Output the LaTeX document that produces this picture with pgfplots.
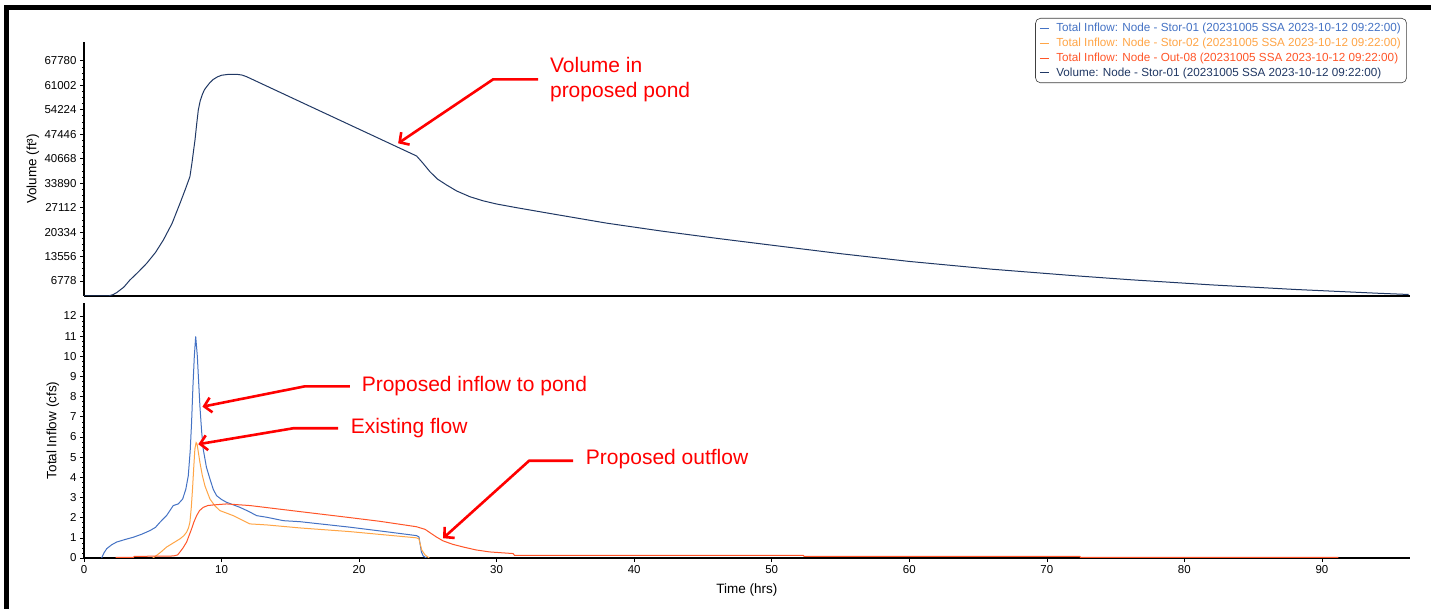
\documentclass[border=0pt]{standalone}
\usepackage{fontspec}
\setmainfont{Liberation Sans}
\usepackage{pgfplots}
\pgfplotsset{compat=1.18}
\usetikzlibrary{arrows.meta}
\definecolor{cblue}{RGB}{68,114,196}
\definecolor{corange}{RGB}{255,165,70}
\definecolor{cred}{RGB}{255,85,40}
\definecolor{cnavy}{RGB}{32,56,100}
\tikzset{ann/.style={draw=red, line width=2.6bp, -{Straight Barb[length=7bp,width=15bp]}},
  anntext/.style={anchor=west, text=red, font=\fontsize{21bp}{25bp}\selectfont, align=left, inner sep=0pt}}
\pgfplotsset{
 base/.style={
  scale only axis, width=1326bp,
  xmin=0, xmax=96.4,
  axis x line*=bottom, axis y line*=left,
  axis line style={-},
  x axis line style={line width=2.6bp},
  y axis line style={line width=1.4bp},
  tick align=outside,
  major tick length=4bp, minor tick length=2bp,
  tick style={black, line width=0.6bp},
  /pgf/number format/assume math mode=true,
  /pgf/number format/1000 sep={},
  scaled ticks=false,
  ticklabel style={font=\fontsize{11.5bp}{13bp}\selectfont},
  label style={font=\fontsize{13.5bp}{16bp}\selectfont},
  anchor=south west,
  every axis plot/.append style={line width=1bp},
 }
}
\begin{document}
\begin{tikzpicture}[x=1bp,y=1bp]
\useasboundingbox (0bp,0bp) rectangle (1431bp,609bp);
\fill[white] (0bp,0bp) rectangle (1431bp,609bp);
\fill[black] (4bp,0bp) rectangle (9bp,604bp);
\fill[black] (4bp,599bp) rectangle (1431bp,604bp);

% ---------- top panel: volume ----------
\begin{axis}[base, at={(84bp,313bp)}, height=254bp,
  ymin=2630, ymax=72960,
  ytick={6778,13556,20334,27112,33890,40668,47446,54224,61002,67780},
  minor y tick num=3,
  xtick=\empty,
  ylabel={Volume (ft³)},
  ylabel style={at={(axis description cs:-0.03846,0.5)}, anchor=center},
  legend style={at={(axis description cs:0.9977,1.0945)}, anchor=north east,
    draw=black!75, rounded corners=5bp, line width=0.6bp,
    font=\fontsize{11.7bp}{13bp}\selectfont,
    inner xsep=4bp, inner ysep=3bp, row sep=1.4bp,
    /tikz/every odd column/.append style={column sep=5bp},
    cells={anchor=west}, nodes={inner sep=1.8bp}},
  legend image code/.code={\draw[#1, line width=1bp] (0bp,0bp) -- (9bp,0bp);},
]
\addlegendimage{cblue}
\addlegendentry{\textcolor{cblue}{Total Inflow: Node - Stor-01 (20231005 SSA 2023-10-12 09:22:00)}}
\addlegendimage{corange}
\addlegendentry{\textcolor{corange}{Total Inflow: Node - Stor-02 (20231005 SSA 2023-10-12 09:22:00)}}
\addlegendimage{cred}
\addlegendentry{\textcolor{cred}{Total Inflow: Node - Out-08 (20231005 SSA 2023-10-12 09:22:00)}}
\addplot[cnavy] coordinates {
(0,2630) (1.77,2630) (2.1,3000) (2.37,3544) (2.9,5100) (3.34,7061) (3.9,9100)
(4.56,11685) (5.2,14700) (5.77,18137) (6.4,22700) (6.98,28299) (7.35,32000)
(7.70,35665) (7.85,39500) (7.97,43000) (8.07,45828) (8.2,50500) (8.31,54134)
(8.45,56700) (8.60,58400) (8.75,59700) (8.92,60586) (9.15,61700) (9.4,62600)
(9.7,63300) (10.0,63750) (10.5,64000) (11.1,64020) (11.5,63800) (11.82,63355)
(14.0,59480) (16.66,54750) (20.0,48820) (24.18,41397) (24.6,39600) (25.15,37049)
(25.7,35000) (26.36,33367) (27.1,31700) (28.05,30127) (29.0,29000) (29.99,28105)
(31.5,27050) (34.0,25400) (38.0,22800) (42.0,20600) (46.0,18600) (50.0,16700)
(55.0,14350) (60.0,12200) (66.0,10050) (72.0,8250) (76.0,7150) (82.0,5700)
(88.0,4450) (94.0,3400) (96.3,3050)
};
\addlegendentry{\textcolor{cnavy}{Volume: Node - Stor-01 (20231005 SSA 2023-10-12 09:22:00)}}
\draw[ann] (axis cs:33.02,62630) -- (axis cs:29.75,62630) -- (axis cs:22.84,44910);
\node[anntext] at (axis cs:33.87,62660) {Volume in\\proposed pond};
\end{axis}

% ---------- bottom panel: inflows ----------
\begin{axis}[base, at={(84bp,51bp)}, height=255bp,
  ymin=0, ymax=12.64,
  ytick={0,1,...,12}, minor y tick num=3,
  xtick={0,10,...,90},
  xlabel={Time (hrs)}, ylabel={Total Inflow (cfs)},
  xlabel style={at={(axis description cs:0.5,0)}, anchor=center, yshift=-32bp},
  ylabel style={at={(axis description cs:-0.02338,0.5)}, anchor=center},
]
\addplot[cblue] coordinates {
(1.28,0) (1.45,0.25) (1.65,0.46) (2.0,0.65) (2.37,0.79) (3.0,0.92) (3.59,1.03)
(4.2,1.18) (4.8,1.36) (5.2,1.52) (5.52,1.77) (6.0,2.1) (6.49,2.6) (6.85,2.68)
(7.17,2.92) (7.4,3.4) (7.58,4.07) (7.72,5.3) (7.82,6.7) (7.92,8.5) (8.02,9.99)
(8.12,10.98) (8.24,10.0) (8.33,8.8) (8.43,7.5) (8.55,6.3) (8.67,5.39) (8.9,4.5)
(9.16,3.91) (9.4,3.4) (9.64,3.09) (10.0,2.9) (10.37,2.76) (11.34,2.51) (12.0,2.3)
(12.55,2.1) (13.28,2.02) (14.5,1.85) (15.7,1.8) (19.3,1.53) (22.0,1.3) (24.17,1.11)
(24.35,1.05) (24.53,0.3) (24.66,0.1) (24.9,0)
};
\addplot[corange] coordinates {
(5.0,0) (5.28,0.13) (5.6,0.3) (6.0,0.54) (6.5,0.75) (6.98,0.95) (7.25,1.1)
(7.46,1.28) (7.6,1.5) (7.7,1.77) (7.8,2.5) (7.89,3.42) (7.98,4.5) (8.06,5.39)
(8.15,5.72) (8.22,5.65) (8.43,4.73) (8.6,4.1) (8.79,3.58) (9.0,3.2) (9.16,2.92)
(9.5,2.6) (9.88,2.35) (10.85,2.1) (12.06,1.69) (13.28,1.64) (15.7,1.49) (19.3,1.31)
(24.17,1.0) (24.35,0.95) (24.55,0.4) (24.8,0.15) (25.1,0)
};
\addplot[cred] coordinates {
(2.3,0.03) (3.6,0.03) (3.65,0.08) (6.5,0.1) (6.8,0.15) (6.98,0.3) (7.2,0.5)
(7.46,0.79) (7.82,1.44) (8.0,1.8) (8.19,2.1) (8.4,2.35) (8.67,2.51) (9.0,2.6)
(9.4,2.63) (10.37,2.68) (12.06,2.6) (15.7,2.3) (19.0,2.03) (21.5,1.82) (24.17,1.55)
(24.8,1.42) (25.1,1.28) (25.6,1.05) (26.1,0.85) (26.8,0.68) (27.6,0.54) (28.5,0.4)
(29.5,0.3) (31.2,0.22) (31.3,0.13) (52.3,0.13) (52.35,0.08) (72.4,0.08) (72.45,0.03) (91.2,0.03)
};
\draw[ann] (axis cs:19.33,8.51) -- (axis cs:16.06,8.51) -- (axis cs:8.61,7.50);
\node[anntext] at (axis cs:20.18,8.53) {Proposed inflow to pond};
\draw[ann] (axis cs:18.48,6.43) -- (axis cs:15.21,6.43) -- (axis cs:8.31,5.64);
\node[anntext] at (axis cs:19.38,6.43) {Existing flow};
\draw[ann] (axis cs:35.56,4.82) -- (axis cs:32.36,4.82) -- (axis cs:26.11,0.98);
\node[anntext] at (axis cs:36.48,4.89) {Proposed outflow};
\end{axis}
\end{tikzpicture}
\end{document}
